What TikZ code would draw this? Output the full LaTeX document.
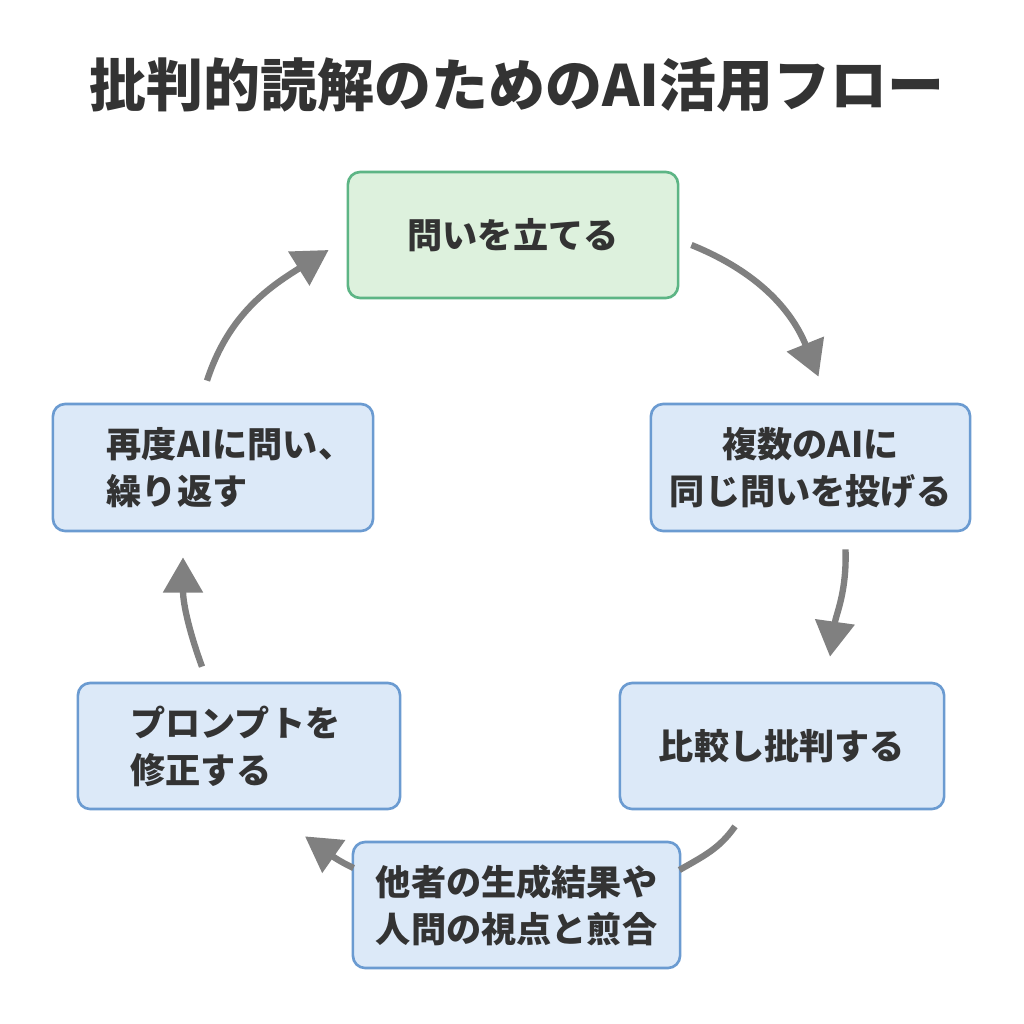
\documentclass[tikz,border=0pt]{standalone}
\usepackage{fontspec}
\setmainfont{Noto Sans CJK JP}
\usetikzlibrary{arrows.meta,calc}
\definecolor{txt}{HTML}{333333}
\definecolor{gfill}{HTML}{DDF1DD}
\definecolor{gline}{HTML}{5DB585}
\definecolor{bfill}{HTML}{DCE9F8}
\definecolor{bline}{HTML}{6B9BD1}
\definecolor{arr}{HTML}{808080}
\begin{document}
\begin{tikzpicture}[x=0.01cm,y=0.01cm,
  box/.style={draw=bline,fill=bfill,line width=0.75pt,rounded corners=3.5pt,
    minimum width=3.2cm,minimum height=1.26cm,
    font=\fontsize{10}{13.4}\selectfont\bfseries,text=txt,inner sep=0pt},
  gbox/.style={box,draw=gline,fill=gfill},
  flow/.style={draw=arr,line width=1.8pt,-{Triangle[length=10pt,width=11pt]}},
  flowplain/.style={draw=arr,line width=1.8pt}]
\fill[white] (0,0) rectangle (1024,-1024);
\node[font=\fontsize{16.2}{20}\selectfont\bfseries,text=txt] (title) at (517,-85) {批判的読解のためのAI活用フロー};
\node[gbox,minimum width=3.30cm] (n1) at (513,-235) {問いを立てる};
\node[box,minimum width=3.19cm,minimum height=1.27cm,align=center] (n2) at (810.5,-467.5) {複数のAIに\\同じ問いを投げる};
\node[box,minimum width=3.24cm] (n3) at (782,-746) {比較し批判する};
\node[box,minimum width=3.27cm,align=center] (n4) at (516.5,-905) {他者の生成結果や\\人問の視点と煎合};
\node[box,minimum width=3.22cm,align=left] (n5) at (239,-746) {\hspace*{-0.07cm}プロンプトを\\\hspace*{-0.07cm}修正する};
\node[box,minimum width=3.20cm,minimum height=1.27cm,align=left] (n6) at (213,-467.5) {\hspace*{0.34cm}再度AIに問い、\\\hspace*{0.34cm}繰り返す};
\draw[flow] ($(n1.east)+(12,-10)$) to[out=-22,in=112] ($(n2.north)+(8,26)$);
\draw[flow] ($(n2.south)+(35,-17)$) to[out=-88,in=82] ($(n3.north)+(48,25)$);
\draw[flowplain] ($(n3.south)+(-47,-16)$) to[out=-125,in=30] ($(n4.east)+(-2,35)$);
\draw[flow] ($(n4.west)+(2,37)$) to[out=155,in=-35] ($(n5.south)+(66,-26)$);
\draw[flow] ($(n5.north)+(-37,15)$) to[out=110,in=-90] ($(n6.south)+(-30,-25)$);
\draw[flow] ($(n6.north)+(-6,22)$) to[out=72,in=-148] ($(n1.west)+(-18,-15)$);
\end{tikzpicture}
\end{document}
